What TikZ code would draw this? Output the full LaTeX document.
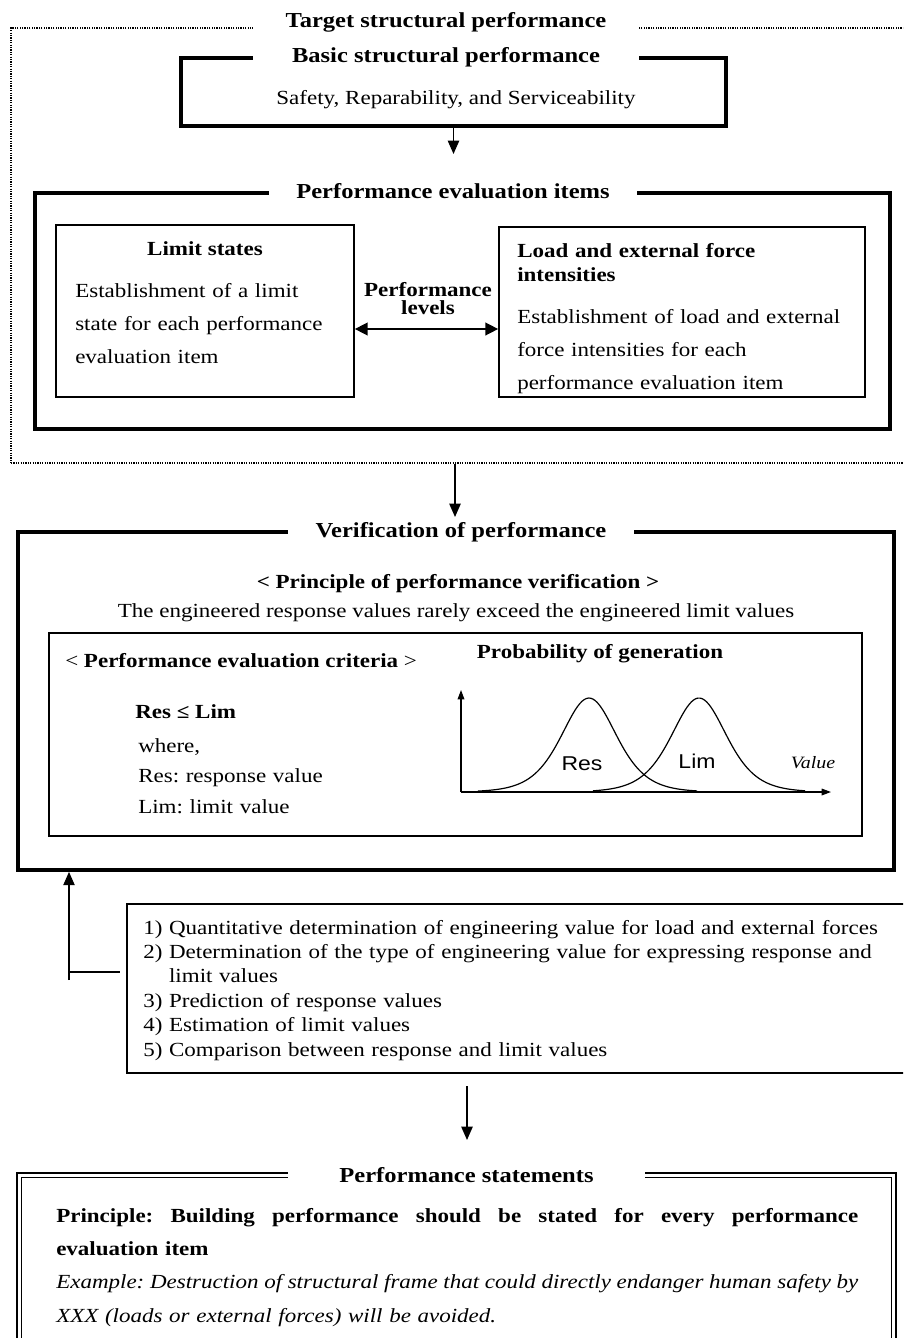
\documentclass[tikz,border=0pt]{standalone}
\usepackage{fontspec}
\setmainfont{Liberation Serif}[FakeStretch=1.15]
\newfontfamily\chartsans{Liberation Sans}[FakeStretch=1.15]
\usetikzlibrary{arrows.meta,fit}
\newcommand\fs[2]{\fontsize{#1}{#2}\selectfont}
\newcommand\jline[1]{{\spaceskip=0.25em plus 3em minus 0.1em\relax\makebox[601.5pt][s]{#1}}}
\begin{document}
\frenchspacing
\begin{tikzpicture}[x=0.75pt,y=-0.75pt,
  thickbox/.style={draw,line width=2.8pt,inner sep=0pt},
  thinbox/.style={draw,line width=1.3pt,inner sep=0pt},
  dotbox/.style={draw,line width=0.9pt,dash pattern=on 0.9pt off 0.9pt,inner sep=0pt},
  frametitle/.style={fill=white,inner xsep=0pt,inner ysep=3pt,anchor=base,font={\fs{16pt}{19pt}\bfseries}},
  body/.style={inner sep=0pt,font={\fs{15pt}{18pt}}},
  bbody/.style={inner sep=0pt,font={\fs{15pt}{18pt}\bfseries}},
  arr/.style={line width=1.1pt,-{Triangle[length=10pt,width=8.5pt]}},
  darr/.style={line width=1.1pt,{Triangle[length=9.5pt,width=9.5pt]}-{Triangle[length=9.5pt,width=9.5pt]}},
  axarr/.style={line width=0.9pt,-{Triangle[length=7pt,width=5pt]}},
  curve/.style={line width=0.9pt}]
\path[use as bounding box] (0,0) rectangle (903,1338);
\clip (0,0) rectangle (903,1338);

% ---------- target structural performance ----------
\node[dotbox,fit={(11,28) (912,463)}] (target) {};
\node[frametitle,minimum width=289.5pt] (targett) at (446,28) {Target structural performance};

\node[thickbox,fit={(181,58) (726,126)}] (basic) {};
\node[frametitle,minimum width=289.5pt] (basict) at (446,63) {Basic structural performance};
\node[body,anchor=base] (safety) at (456,104) {Safety, Reparability, and Serviceability};

\coordinate (a1) at (453.5,154);
\draw[arr] (basic.south) -- (a1);

\node[thickbox,fit={(35,193) (890,429)}] (items) {};
\node[frametitle,minimum width=276pt] (itemst) at (453,198) {Performance evaluation items};

\node[thinbox,fit={(56,225) (354,397)}] (ls) {};
\node[bbody,anchor=base] (lsh) at (205,255) {Limit states};
\node[body,anchor=base west,text width=206pt,align=left,font={\fs{15pt}{24.75pt}}] (lsb) at (75,297)
  {Establishment of a limit\\ state for each performance\\ evaluation item};

\node[thinbox,fit={(499,227) (865,397)}] (lf) {};
\node[bbody,anchor=base west,text width=255pt,align=left,font={\fs{15pt}{18pt}\bfseries}] (lfh) at (517,257)
  {Load and external force\\ intensities};
\node[body,anchor=base west,text width=255pt,align=left,font={\fs{15pt}{25pt}}] (lfb) at (517,323)
  {Establishment of load and external\\ force intensities for each\\ performance evaluation item};

\node[bbody,anchor=base,text width=105pt,align=center,font={\fs{15pt}{13.5pt}\bfseries}] (pl) at (428,296)
  {Performance\\ levels};
\coordinate (plv) at (428,329);
\draw[darr] (ls.east |- plv) -- (lf.west |- plv);

\coordinate (a2) at (455,517);
\draw[arr] (target.south -| a2) -- (a2);

% ---------- verification ----------
\node[thickbox,fit={(18,532) (894,870)}] (verif) {};
\node[frametitle,minimum width=259.5pt] (verift) at (461,537) {Verification of performance};

\node[bbody,anchor=base] (pv) at (458,588) {< Principle of performance verification >};
\node[body,anchor=base] (eng) at (456,617) {The engineered response values rarely exceed the engineered limit values};

\node[draw,line width=1.5pt,inner sep=0pt,fit={(49,633) (862,836)}] (crit) {};
\node[body,anchor=base west] (pec) at (65,667) {< \textbf{Performance evaluation criteria} >};
\node[bbody,anchor=base] (pg) at (600,658) {Probability of generation};
\node[bbody,anchor=base west] (rl) at (135,718) {Res ≤ Lim};
\node[body,anchor=base west,text width=200pt,align=left,font={\fs{15pt}{22.9pt}}] (wh) at (138,752)
  {where,\\ Res: response value\\ Lim: limit value};

% chart
\coordinate (O) at (461,792);
\coordinate (Ytop) at (461,690);
\coordinate (Xend) at (831,792);
\draw[axarr] (O) -- (Ytop);
\draw[axarr] (O) -- (Xend);
\draw[curve] plot[domain=-111:108,samples=100,smooth] ({589+\x},{792-94/(cosh(\x/37)^2)});
\draw[curve] plot[domain=-106:106,samples=100,smooth] ({699+\x},{792-94/(cosh(\x/37)^2)});
\node[inner sep=0pt,anchor=base,font={\chartsans\fs{15pt}{18pt}}] (resl) at (582,770) {Res};
\node[inner sep=0pt,anchor=base,font={\chartsans\fs{15pt}{18pt}}] (liml) at (697,768) {Lim};
\node[inner sep=0pt,anchor=base,font={\fs{13pt}{16pt}\itshape}] (vall) at (813,768) {Value};

% ---------- list ----------
\node[draw,line width=1.2pt,inner sep=0pt,fit={(127,904) (912,1073)}] (list) {};
\node[body,anchor=base west,text width=570pt,align=left,font={\fs{15pt}{18.3pt}}] (listt) at (143,934)
  {1) Quantitative determination of engineering value for load and external forces\\
   2) Determination of the type of engineering value for expressing response and\\
   \hphantom{2) }limit values\\
   3) Prediction of response values\\
   4) Estimation of limit values\\
   5) Comparison between response and limit values};

\coordinate (fb) at (69,980);
\coordinate (fbh) at (69,972);
\draw[line width=1pt,-{Triangle[length=10pt,width=8.5pt]}] (fb) -- (verif.south -| fb);
\draw[line width=1pt,shorten >=4.5pt] (fbh) -- (list.west |- fbh);

\coordinate (a3s) at (467,1086);
\coordinate (a3) at (467,1140);
\draw[arr] (a3s) -- (a3);

% ---------- statements ----------
\node[draw,line width=1.8pt,inner sep=0pt,fit={(17,1173) (896,1360)}] (stmt) {};
\node[draw,line width=0.8pt,inner sep=0pt,fit={(21.5,1177.5) (891.5,1360)}] (stmti) {};
\node[frametitle,minimum width=267.75pt] (stmtt) at (466.5,1182) {Performance statements};
\node[body,anchor=base west,text width=601.5pt,align=left,font={\fs{15pt}{25pt}}] (stb) at (56,1222)
  {\textbf{\jline{Principle: Building performance should be stated for every performance}}\\
   \textbf{evaluation item}\\
   \textit{\jline{Example: Destruction of structural frame that could directly endanger human safety by}}\\
   \textit{XXX (loads or external forces) will be avoided.}};
\end{tikzpicture}
\end{document}
